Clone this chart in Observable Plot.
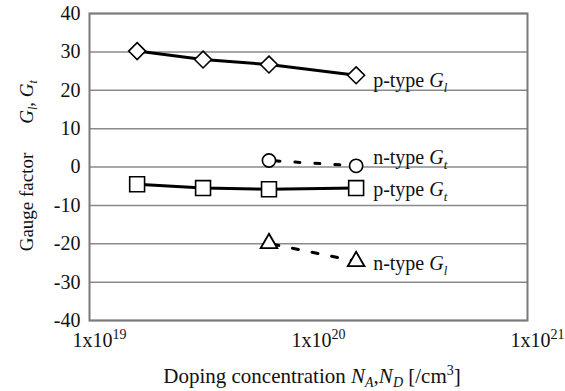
<!DOCTYPE html>
<html><head><meta charset="utf-8">
<script src="https://cdn.jsdelivr.net/npm/d3@7"></script>
<script src="https://cdn.jsdelivr.net/npm/@observablehq/plot@0.6"></script>
<style>
body{margin:0;background:#fff}
svg, svg text, svg tspan{font-family:"Liberation Serif","Times New Roman",serif !important}
</style>
</head><body><div id="chart"></div>
<script>
// Doping concentrations (/cm^3)
const concP = [1.65e19, 3.3e19, 6.6e19, 1.65e20];
const concN = [6.6e19, 1.65e20];
// Gauge factors
const pTypeGl = [30.2, 28.0, 26.7, 23.9];
const pTypeGt = [-4.5, -5.5, -5.8, -5.5];
const nTypeGt = [1.7, 0.3];
const nTypeGl = [-19.9, -24.6];
// Ticks
const xTicks = [1e19, 1e20, 1e21];
const xTickExp = ["19", "20", "21"];
const yTicks = [-40, -30, -20, -10, 0, 10, 20, 30, 40];
// Series labels
const labelType = ["p-type", "n-type", "p-type", "n-type"];
const labelSub = ["l", "t", "t", "l"];

const FONT = '"Liberation Serif", "Times New Roman", serif';
const rows = (xs, ys) => xs.map((x, i) => ({x, y: ys[i]}));
const sPL = rows(concP, pTypeGl);
const sPT = rows(concP, pTypeGt);
const sNT = rows(concN, nTypeGt);
const sNL = rows(concN, nTypeGl);
const lastPoints = [sPL, sNT, sPT, sNL].map(s => s[s.length - 1]);
const labelDy = [5, -8, 1, 2];

const labelMarks = lastPoints.map((p, i) =>
  Plot.text([p], {x: "x", y: "y", text: () => labelType[i] + " ", dx: 17, dy: labelDy[i],
    textAnchor: "start", fontSize: 20, fontFamily: FONT, fill: "#111", className: "slabel" + i}));

const chart = Plot.plot({
  width: 565,
  height: 391,
  marginTop: 13,
  marginBottom: 71,
  marginLeft: 89,
  marginRight: 38,
  style: {fontFamily: FONT, fontSize: "20px", background: "#fff", color: "#000"},
  x: {type: "log", domain: [1e19, 1e21]},
  y: {domain: [-40, 40]},
  marks: [
    Plot.gridY(yTicks, {stroke: "#8a8a8a", strokeOpacity: 1, strokeWidth: 1.5}),
    Plot.frame({stroke: "#7a7a7a", strokeWidth: 2}),
    Plot.axisY(yTicks, {tickSize: 0, tickPadding: 9, tickFormat: d => String(d), label: null, fontSize: 20, fontFamily: FONT, fontVariant: "normal", fill: "#111", className: "yticks"}),
    Plot.axisX(xTicks, {tickSize: 0, tickPadding: 12, dx: 10, tickFormat: () => "1x10", label: null, fontSize: 20, fontFamily: FONT, fontVariant: "normal", fill: "#111", className: "xticks"}),
    Plot.line(sPL, {x: "x", y: "y", stroke: "#000", strokeWidth: 3}),
    Plot.line(sPT, {x: "x", y: "y", stroke: "#000", strokeWidth: 3}),
    Plot.line(sNT, {x: "x", y: "y", stroke: "#000", strokeWidth: 3, strokeDasharray: "5,15", strokeDashoffset: -6}),
    Plot.line(sNL, {x: "x", y: "y", stroke: "#000", strokeWidth: 3, strokeDasharray: "6,14", strokeDashoffset: -4}),
    Plot.dot(sPL, {x: "x", y: "y", symbol: "diamond2", r: 7.6, fill: "#fff", stroke: "#000", strokeWidth: 1.6}),
    Plot.dot(sPT, {x: "x", y: "y", symbol: "square", r: 8.4, fill: "#fff", stroke: "#000", strokeWidth: 1.6}),
    Plot.dot(sNT, {x: "x", y: "y", symbol: "circle", r: 6.6, fill: "#fff", stroke: "#000", strokeWidth: 1.6}),
    Plot.dot(sNL, {x: "x", y: "y", symbol: "triangle", r: 6.2, fill: "#fff", stroke: "#000", strokeWidth: 1.8}),
    ...labelMarks
  ]
});

const svg = d3.select(chart);
// superscripts on x ticks
svg.selectAll("g.xticks text").each(function(d, i) {
  d3.select(this).append("tspan").attr("font-size", 14).attr("dy", "-8").text(xTickExp[i]);
});
// italic G with subscript in series labels
labelSub.forEach((sub, i) => {
  svg.selectAll("g.slabel" + i + " text").each(function() {
    const t = d3.select(this);
    t.append("tspan").attr("font-style", "italic").text("G");
    t.append("tspan").attr("font-style", "italic").attr("font-size", 13).attr("dy", 5).text(sub);
  });
});
// x-axis title
const xt = svg.append("text").attr("x", 312).attr("y", 383).attr("text-anchor", "middle")
  .attr("font-size", 21).attr("fill", "#111");
xt.append("tspan").text("Doping concentration ");
xt.append("tspan").attr("font-style", "italic").text("N");
xt.append("tspan").attr("font-style", "italic").attr("font-size", 14).attr("dy", 4).text("A");
xt.append("tspan").attr("dy", -4).text(",");
xt.append("tspan").attr("font-style", "italic").text("N");
xt.append("tspan").attr("font-style", "italic").attr("font-size", 14).attr("dy", 4).text("D");
xt.append("tspan").attr("dy", -4).text(" [/cm");
xt.append("tspan").attr("font-size", 14).attr("dy", -8).text("3");
xt.append("tspan").attr("dy", 8).text("]");
// y-axis title (two parts)
svg.append("text").attr("transform", "translate(33,202) rotate(-90)").attr("text-anchor", "middle")
  .attr("font-size", 19).attr("fill", "#111").text("Gauge factor");
const yt2 = svg.append("text").attr("transform", "translate(33,102) rotate(-90)").attr("text-anchor", "middle")
  .attr("font-size", 19).attr("fill", "#111");
yt2.append("tspan").attr("font-style", "italic").text("G");
yt2.append("tspan").attr("font-style", "italic").attr("font-size", 12).attr("dy", 4).text("l");
yt2.append("tspan").attr("dy", -4).text(", ");
yt2.append("tspan").attr("font-style", "italic").text("G");
yt2.append("tspan").attr("font-style", "italic").attr("font-size", 12).attr("dy", 4).text("t");

svg.selectAll("text").style("font-family", FONT);

document.getElementById("chart").append(chart);
</script>
</body></html>
